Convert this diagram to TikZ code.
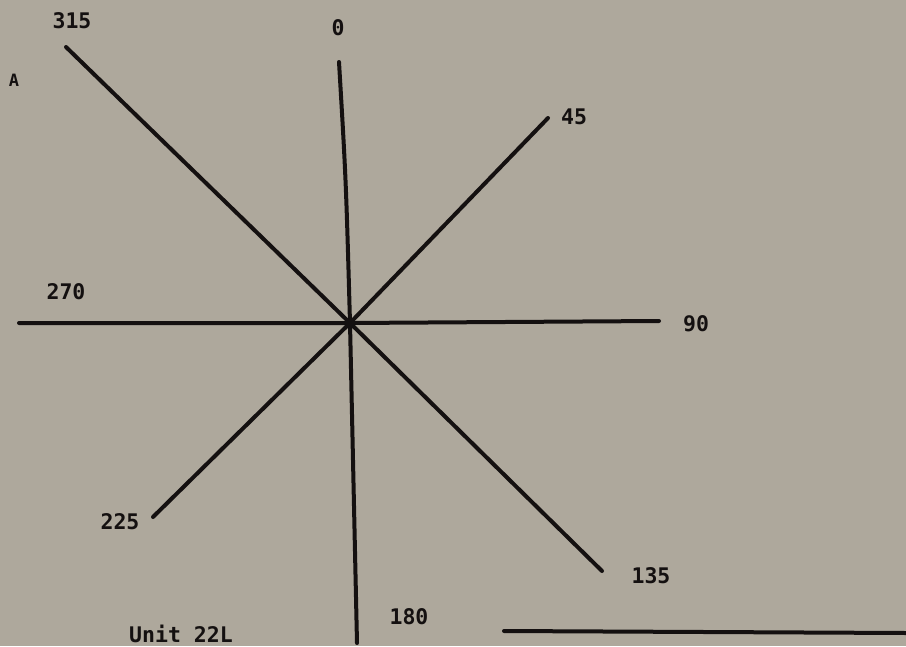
\documentclass[tikz,border=0pt]{standalone}
\usepackage{fontspec}
\newfontfamily\plotfont{DejaVu Sans Mono}
\definecolor{paper}{RGB}{174,168,156}
\definecolor{ink}{RGB}{20,16,16}
\begin{document}
\begin{tikzpicture}[x=1pt,y=-1pt,
  ray/.style={draw=ink,line width=4pt,line cap=round,line join=round},
  lbl/.style={text=ink,font=\plotfont\bfseries\fontsize{21.5}{21.5}\selectfont,inner sep=0pt,anchor=center}]
\fill[paper] (0,0) rectangle (906,646);
\useasboundingbox (0,0) rectangle (906,646);
\coordinate (c) at (350,323);
\coordinate (n) at (339,62);
\coordinate (s) at (357,643);
\coordinate (nw) at (66,47);
\coordinate (se) at (602,571);
\coordinate (ne) at (548,118);
\coordinate (sw) at (153,517);
\coordinate (w) at (19,323);
\coordinate (e) at (659,321);
\coordinate (b1) at (504,631);
\coordinate (b2) at (906,633);
\draw[ray] (n) .. controls (346,180) .. (c) -- (s);
\draw[ray] (nw) -- (c) -- (se);
\draw[ray] (ne) -- (c) -- (sw);
\draw[ray] (w) -- (c) -- (e);
\draw[ray] (b1) -- (b2);
\node[lbl] (t315) at (72,21) {315};
\node[lbl,font=\plotfont\bfseries\fontsize{17}{17}\selectfont] (tA) at (14,80) {A};
\node[lbl] (t0) at (338,28) {0};
\node[lbl] (t45) at (574,117) {45};
\node[lbl] (t270) at (66,292) {270};
\node[lbl] (t90) at (696,324) {90};
\node[lbl] (t225) at (120,522) {225};
\node[lbl] (t135) at (651,576) {135};
\node[lbl] (t180) at (409,617) {180};
\node[lbl] (tunit) at (181,634) {Unit 22L};
\end{tikzpicture}
\end{document}
